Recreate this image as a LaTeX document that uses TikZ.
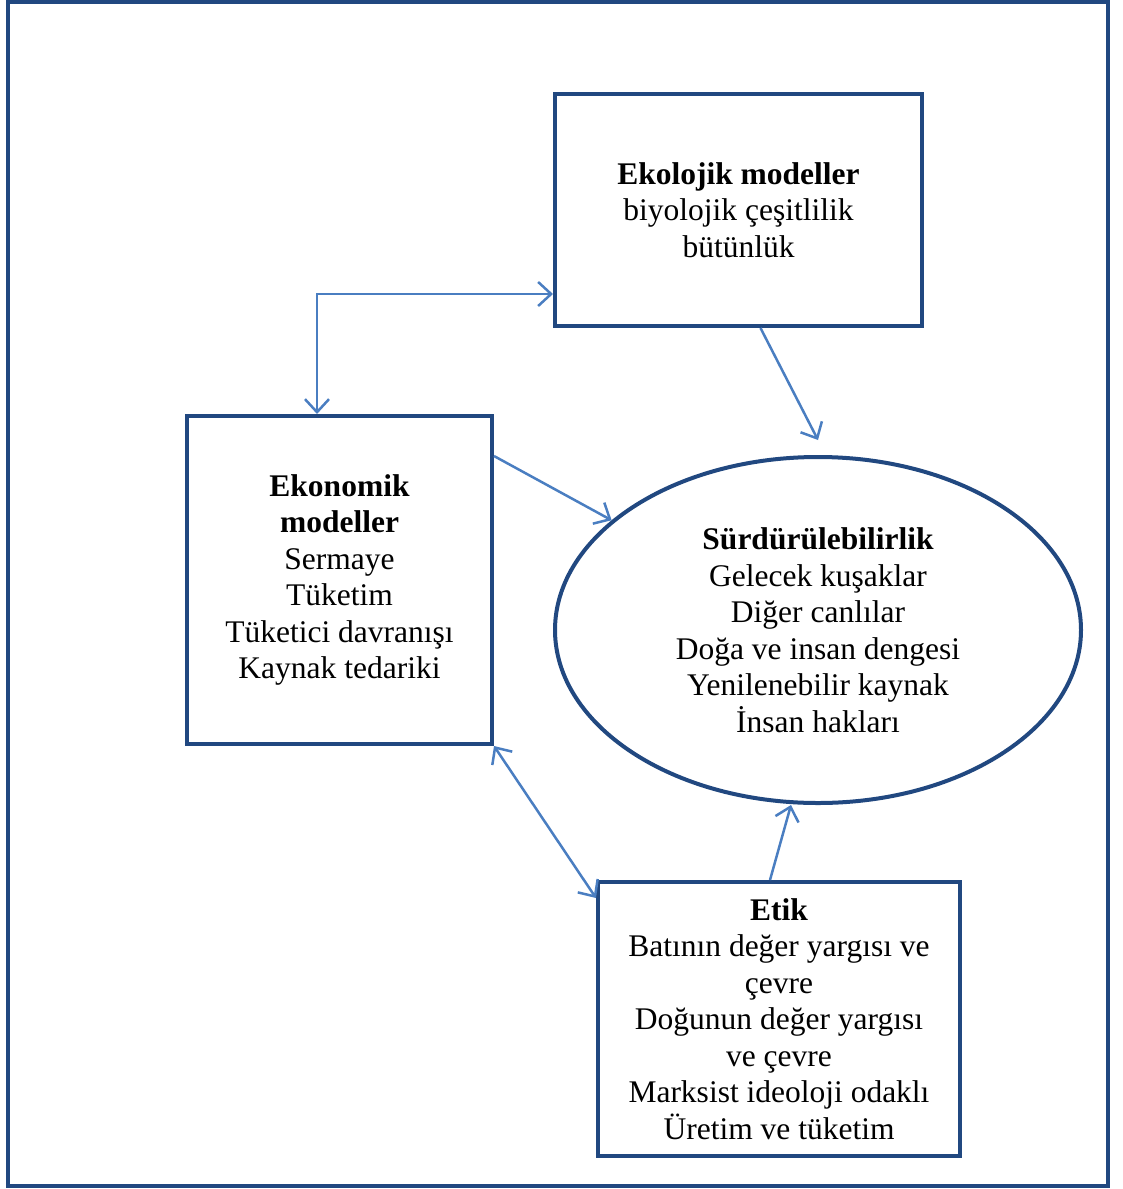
\documentclass[tikz,border=0pt]{standalone}
\usepackage{fontspec}
\setmainfont{Liberation Serif}
\usetikzlibrary{shapes.geometric,arrows.meta}

\definecolor{koyu}{RGB}{33,72,128}
\definecolor{acik}{RGB}{74,126,193}

\tikzset{
  kutu/.style={draw=koyu, line width=4pt, align=center, inner sep=0pt,
    font=\fontsize{31.5}{36.5}\selectfont},
  ok/.style={draw=acik, line width=2.5pt,
    arrows={Straight Barb[length=13pt,width=24pt,line width=2.5pt]-Straight Barb[length=13pt,width=24pt,line width=2.5pt]}},
  tekok/.style={draw=acik, line width=2.5pt,
    arrows={-Straight Barb[length=13pt,width=24pt,line width=2.5pt]}}
}

\begin{document}
\begin{tikzpicture}[x=1pt,y=-1pt]
    \useasboundingbox (0,0) rectangle (1123,1189);
    % dis cerceve
    \draw[koyu, line width=4pt] (8,2) rectangle (1108,1186);

    % kutular
    \node[kutu, rectangle, minimum width=367, minimum height=232] (eko) at (738.5,210)
        {\textbf{Ekolojik modeller}\\biyolojik çeşitlilik\\bütünlük};
    \node[kutu, rectangle, minimum width=305, minimum height=328] (ekn) at (339.5,580)
        {\textbf{Ekonomik}\\\textbf{modeller}\\Sermaye\\Tüketim\\Tüketici davranışı\\Kaynak tedariki};
    \node[kutu, ellipse, minimum width=526, minimum height=346] (sur) at (818,630)
        {\textbf{Sürdürülebilirlik}\\Gelecek kuşaklar\\Diğer canlılar\\Doğa ve insan dengesi\\Yenilenebilir kaynak\\İnsan hakları};
    \node[kutu, rectangle, minimum width=362, minimum height=274] (etik) at (779,1019)
        {\textbf{Etik}\\Batının değer yargısı ve\\çevre\\Doğunun değer yargısı\\ve çevre\\Marksist ideoloji odaklı\\Üretim ve tüketim};

    % oklar
    \coordinate (kose) at (317,294);
    \draw[ok] (kose -| eko.west) -- (kose) -- (kose |- ekn.north);
    \draw[tekok] ([yshift=-42]ekn.north east) -- (sur.152);
    \draw[tekok] ([xshift=22]eko.south) -- ([yshift=15]sur.north);
    \draw[ok] (ekn.south east) -- ([yshift=-18]etik.north west);
    \draw[tekok] ([xshift=-9]etik.north) -- ([xshift=-27]sur.south);
\end{tikzpicture}
\end{document}
